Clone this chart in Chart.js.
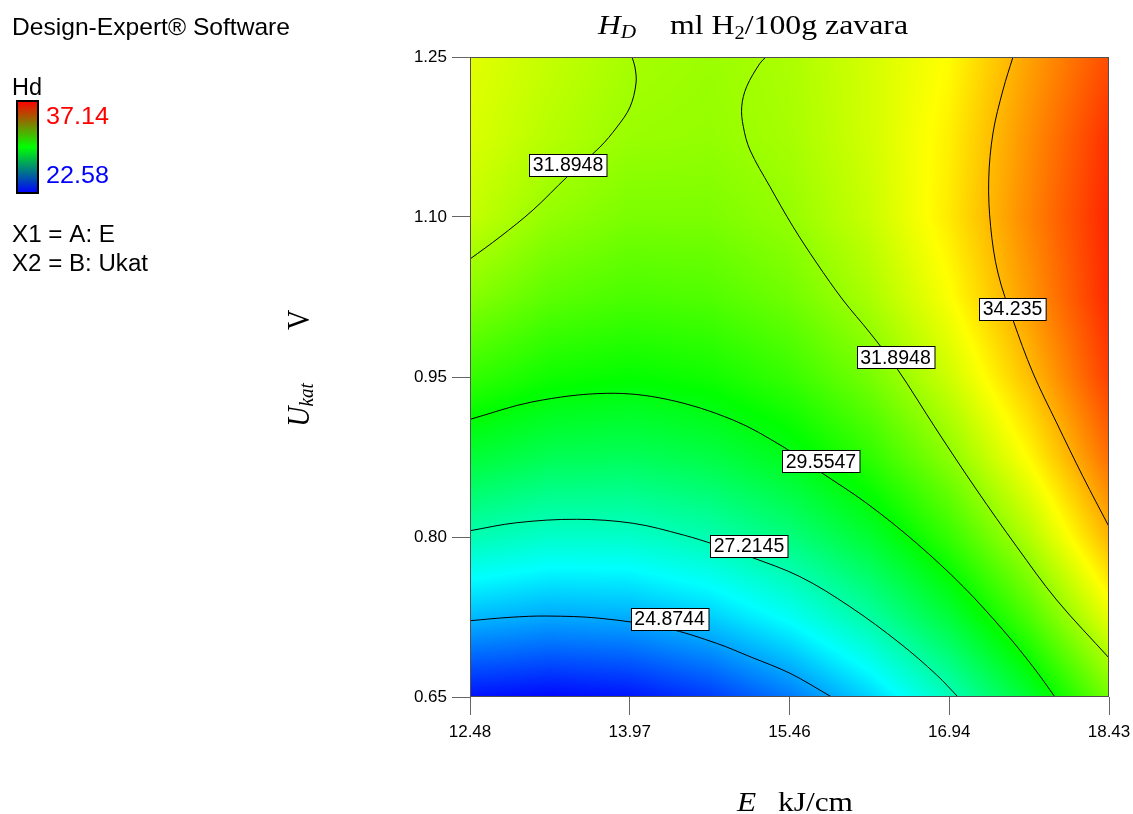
<!DOCTYPE html>
<html><head><meta charset="utf-8">
<script src="https://cdn.jsdelivr.net/npm/chart.js@4.4.1/dist/chart.umd.min.js"></script>
<style>html,body{margin:0;padding:0;background:#fff;overflow:hidden}#wrap{width:1133px;height:814px}</style>
</head><body>
<div id="wrap"><canvas id="c" width="1133" height="814"></canvas></div>
<script>
// ---- axis ticks ----
const xTickValues = [12.48, 13.9675, 15.455, 16.9425, 18.43];
const xTickLabels = ['12.48', '13.97', '15.46', '16.94', '18.43'];
const yTickValues = [0.65, 0.80, 0.95, 1.10, 1.25];
const yTickLabels = ['0.65', '0.80', '0.95', '1.10', '1.25'];

// ---- response surface Hd (grid of E x Ukat) ----
const gridE = [12.48, 13.224, 13.968, 14.711, 15.455, 16.199, 16.943, 17.686, 18.43];
const gridU = [0.65, 0.725, 0.80, 0.875, 0.95, 1.025, 1.10, 1.175, 1.25];
const hdU065  = [22.83, 22.67, 22.85, 23.38, 24.25, 25.47, 27.03, 28.93, 31.18];
const hdU0725 = [25.14, 24.89, 24.98, 25.42, 26.21, 27.34, 28.81, 30.63, 32.79];
const hdU080  = [27.15, 26.81, 26.82, 27.18, 27.88, 28.92, 30.31, 32.04, 34.11];
const hdU0875 = [28.87, 28.45, 28.37, 28.64, 29.25, 30.21, 31.51, 33.16, 35.10];
const hdU095  = [30.31, 29.80, 29.63, 29.82, 30.34, 31.21, 32.42, 33.98, 35.75];
const hdU1025 = [31.45, 30.85, 30.60, 30.70, 31.14, 31.92, 33.05, 34.52, 36.05];
const hdU110  = [32.30, 31.62, 31.28, 31.29, 31.64, 32.34, 33.38, 34.76, 36.10];
const hdU1175 = [32.60, 32.09, 31.70, 31.62, 31.88, 32.47, 33.30, 34.62, 35.95];
const hdU125  = [32.70, 32.28, 31.88, 31.72, 31.95, 32.50, 33.12, 34.38, 35.55];
const hdRows = [hdU065, hdU0725, hdU080, hdU0875, hdU095, hdU1025, hdU110, hdU1175, hdU125];

// ---- contour lines ----
const c24E = [12.48, 12.852, 13.194, 13.690, 14.312, 14.777, 15.087, 15.460, 15.848];
const c24U = [0.7215, 0.7247, 0.7259, 0.7238, 0.7144, 0.7003, 0.6878, 0.6722, 0.65];
const c27E = [12.48, 12.915, 13.474, 14.001, 14.466, 14.771, 15.087, 15.553, 16.018, 16.484, 16.826, 17.024];
const c27U = [0.8059, 0.8134, 0.8166, 0.8128, 0.8019, 0.7925, 0.7815, 0.7628, 0.7347, 0.7003, 0.6706, 0.65];
const c29E = [12.48, 13.067, 13.753, 14.312, 14.929, 15.394, 15.739, 16.174, 16.639, 17.073, 17.443, 17.722, 17.927];
const c29U = [0.9103, 0.9268, 0.9347, 0.9291, 0.9097, 0.8847, 0.8612, 0.8316, 0.7941, 0.7534, 0.7128, 0.6784, 0.65];
const c31aE = [12.48, 12.759, 13.067, 13.383, 13.690, 13.849, 13.970, 14.026, 14.016, 13.988];
const c31aU = [1.0606, 1.0813, 1.1066, 1.1375, 1.1656, 1.1844, 1.2031, 1.2256, 1.2406, 1.25];
const c31bE = [15.236, 15.180, 15.056, 15.010, 15.025, 15.087, 15.273, 15.488, 15.708, 15.953, 16.205, 16.453, 16.826, 17.198, 17.571, 17.943, 18.43];
const c31bU = [1.25, 1.2441, 1.2222, 1.2034, 1.1847, 1.1628, 1.1284, 1.0909, 1.0569, 1.0222, 0.9913, 0.9584, 0.9003, 0.8441, 0.7909, 0.7409, 0.6866];
const c34E = [17.536, 17.443, 17.350, 17.310, 17.328, 17.396, 17.536, 17.722, 17.943, 18.188, 18.43];
const c34U = [1.25, 1.2191, 1.1788, 1.1347, 1.0909, 1.0475, 1.0034, 0.9538, 0.9069, 0.8565, 0.8097];

// ---- contour labels ----
const labelText = ['24.8744', '27.2145', '29.5547', '31.8948', '31.8948', '34.235'];
const labelE = [14.338, 15.078, 15.748, 13.393, 16.442, 17.532];
const labelU = [0.7231, 0.7916, 0.8708, 1.1488, 0.9683, 1.0138];

// ---- legend ----
const legendMax = 37.14;
const legendMin = 22.58;

const colorMin = 22.58, colorMax = 36.6;
const SANS = '"Liberation Sans", Arial, sans-serif';
const SERIF = '"Liberation Serif", "Times New Roman", serif';

function colorFor(v) {
  let t = (v - colorMin) / (colorMax - colorMin);
  t = Math.max(0, Math.min(1, t));
  const stops = [[0, 0, 255], [0, 255, 255], [0, 255, 0], [255, 255, 0], [255, 0, 0]];
  const s = t * 4; const i = Math.min(3, Math.floor(s)); const f = s - i;
  const a = stops[i], b = stops[i + 1];
  return [a[0] + (b[0] - a[0]) * f, a[1] + (b[1] - a[1]) * f, a[2] + (b[2] - a[2]) * f];
}

function toPts(E, U) { return E.map((e, i) => ({x: e, y: U[i]})); }

function cellPos(arr, v) {
  let i = 0;
  while (i < arr.length - 2 && v > arr[i + 1]) i++;
  let f = (v - arr[i]) / (arr[i + 1] - arr[i]);
  return [i, Math.max(0, Math.min(1, f))];
}

const heatPlugin = {
  id: 'heat',
  beforeDatasetsDraw(chart) {
    const {ctx, chartArea: ca, scales: {x, y}} = chart;
    const L = Math.round(ca.left), T = Math.round(ca.top);
    const W = Math.round(ca.right) - L, H = Math.round(ca.bottom) - T;
    const img = ctx.createImageData(W, H);
    const cols = [], rows = [];
    for (let px = 0; px < W; px++) cols.push(cellPos(gridE, x.getValueForPixel(L + px + 0.5)));
    for (let py = 0; py < H; py++) rows.push(cellPos(gridU, y.getValueForPixel(T + py + 0.5)));
    for (let py = 0; py < H; py++) {
      const [j, fy] = rows[py];
      const r0 = hdRows[j], r1 = hdRows[j + 1];
      for (let px = 0; px < W; px++) {
        const [i, fx] = cols[px];
        const v = (r0[i] * (1 - fx) + r0[i + 1] * fx) * (1 - fy) + (r1[i] * (1 - fx) + r1[i + 1] * fx) * fy;
        const c = colorFor(v);
        const p = (py * W + px) * 4;
        img.data[p] = c[0]; img.data[p + 1] = c[1]; img.data[p + 2] = c[2]; img.data[p + 3] = 255;
      }
    }
    ctx.putImageData(img, L, T);
  }
};

function runs(ctx, list, x, baseline, sx, targetW) {
  let w = 0;
  list.forEach(r => { ctx.font = r.font; w += ctx.measureText(r.t).width; });
  if (targetW) sx = targetW / w;
  ctx.save(); ctx.translate(x, baseline); ctx.scale(sx, 1);
  let cx = 0;
  list.forEach(r => {
    ctx.font = r.font; ctx.fillStyle = r.color || '#000';
    ctx.textBaseline = 'alphabetic'; ctx.textAlign = 'left';
    ctx.fillText(r.t, cx, r.dy || 0);
    cx += ctx.measureText(r.t).width;
  });
  ctx.restore();
}

const decoPlugin = {
  id: 'deco',
  afterDatasetsDraw(chart) {
    const {ctx, chartArea: ca, scales: {x, y}} = chart;
    ctx.save();
    ctx.strokeStyle = '#505050'; ctx.lineWidth = 1;
    ctx.strokeRect(Math.round(ca.left) + 0.5, Math.round(ca.top) + 0.5, Math.round(ca.width) - 1, Math.round(ca.height) - 1);
    ctx.font = '19.5px ' + SANS;
    ctx.textAlign = 'center'; ctx.textBaseline = 'middle';
    labelText.forEach((t, i) => {
      const px = x.getPixelForValue(labelE[i]), py = y.getPixelForValue(labelU[i]);
      const w = ctx.measureText(t).width + 7, h = 22;
      const lx = Math.round(px - w / 2) + 0.5, ly = Math.round(py - h / 2) + 0.5;
      ctx.fillStyle = '#fff'; ctx.fillRect(lx, ly, w, h);
      ctx.strokeStyle = '#000'; ctx.strokeRect(lx, ly, w, h);
      ctx.fillStyle = '#000'; ctx.fillText(t, px, py + 1);
    });
    ctx.restore();
  },
  afterDraw(chart) {
    const ctx = chart.ctx;
    // left legend
    runs(ctx, [{t: 'Design-Expert\u00AE Software', font: '24px ' + SANS}], 12, 35, 1, 278);
    runs(ctx, [{t: 'Hd', font: '23px ' + SANS}], 12, 95, 1, 30);
    ctx.save();
    const g = ctx.createLinearGradient(0, 101, 0, 193);
    g.addColorStop(0, '#ff0000'); g.addColorStop(0.5, '#00ff00'); g.addColorStop(1, '#0000ff');
    ctx.fillStyle = g; ctx.fillRect(17, 101, 21, 92);
    ctx.strokeStyle = '#000'; ctx.lineWidth = 2; ctx.strokeRect(17, 101, 21, 92);
    ctx.restore();
    runs(ctx, [{t: legendMax.toFixed(2), font: '24px ' + SANS, color: '#ff0000'}], 46, 124, 1, 63);
    runs(ctx, [{t: legendMin.toFixed(2), font: '24px ' + SANS, color: '#0000ff'}], 46, 182.7, 1, 63);
    runs(ctx, [{t: 'X1 = A: E', font: '23px ' + SANS}], 12, 241.7, 1, 103);
    runs(ctx, [{t: 'X2 = B: Ukat', font: '23px ' + SANS}], 12, 270.5, 1, 136);
    // title
    runs(ctx, [{t: 'H', font: 'italic 28px ' + SERIF}, {t: 'D', font: 'italic 19px ' + SERIF, dy: 3.5}], 598, 34, 1.12);
    runs(ctx, [{t: 'ml H', font: '28px ' + SERIF}, {t: '2', font: '18px ' + SERIF, dy: 5}, {t: '/100g zavara', font: '28px ' + SERIF}], 670, 34, 1, 238);
    // x axis title
    runs(ctx, [{t: 'E', font: 'italic 28px ' + SERIF}], 737, 811, 1.12);
    runs(ctx, [{t: 'kJ/cm', font: '28px ' + SERIF}], 778, 811, 1, 75);
    // y axis title (rotated)
    ctx.save();
    ctx.translate(309, 426.7); ctx.scale(1.12, 1); ctx.rotate(-Math.PI / 2);
    ctx.fillStyle = '#000'; ctx.textBaseline = 'alphabetic'; ctx.textAlign = 'left';
    ctx.font = 'italic 28px ' + SERIF; ctx.fillText('U', 0, 0);
    const uw = ctx.measureText('U').width;
    ctx.font = 'italic 19px ' + SERIF; ctx.fillText('kat', uw, 4);
    ctx.font = '28px ' + SERIF; ctx.fillText('V', 96.7, 0);
    ctx.restore();
  }
};

const lineStyle = {showLine: true, borderColor: '#000', borderWidth: 1, pointRadius: 0, pointHoverRadius: 0, tension: 0.35, fill: false};

new Chart(document.getElementById('c').getContext('2d'), {
  type: 'scatter',
  data: {
    datasets: [
      Object.assign({label: '24.8744', data: toPts(c24E, c24U)}, lineStyle),
      Object.assign({label: '27.2145', data: toPts(c27E, c27U)}, lineStyle),
      Object.assign({label: '29.5547', data: toPts(c29E, c29U)}, lineStyle),
      Object.assign({label: '31.8948a', data: toPts(c31aE, c31aU)}, lineStyle),
      Object.assign({label: '31.8948b', data: toPts(c31bE, c31bU)}, lineStyle),
      Object.assign({label: '34.235', data: toPts(c34E, c34U)}, lineStyle)
    ]
  },
  options: {
    responsive: false, animation: false, devicePixelRatio: 1,
    layout: {padding: {top: 57, right: 24, bottom: 0, left: 0}},
    plugins: {legend: {display: false}, tooltip: {enabled: false}, title: {display: false}},
    scales: {
      x: {
        type: 'linear', min: 12.48, max: 18.43,
        afterBuildTicks: s => { s.ticks = xTickValues.map(v => ({value: v})); },
        afterFit: s => { s.height = 117; s.paddingLeft = 0; s.paddingRight = 0; },
        ticks: {callback: (v, i) => xTickLabels[i], font: {family: SANS, size: 17}, color: '#000', padding: 7, maxRotation: 0, autoSkip: false},
        grid: {drawOnChartArea: false, drawTicks: true, tickLength: 18, color: '#666'},
        border: {display: false}
      },
      y: {
        type: 'linear', min: 0.65, max: 1.25,
        afterBuildTicks: s => { s.ticks = yTickValues.map(v => ({value: v})); },
        afterFit: s => { s.width = 470; s.paddingTop = 0; s.paddingBottom = 0; },
        ticks: {callback: (v, i) => yTickLabels[i], font: {family: SANS, size: 17}, color: '#000', padding: 5, autoSkip: false},
        grid: {drawOnChartArea: false, drawTicks: true, tickLength: 18, color: '#666'},
        border: {display: false}
      }
    }
  },
  plugins: [heatPlugin, decoPlugin]
});
</script>
</body></html>
